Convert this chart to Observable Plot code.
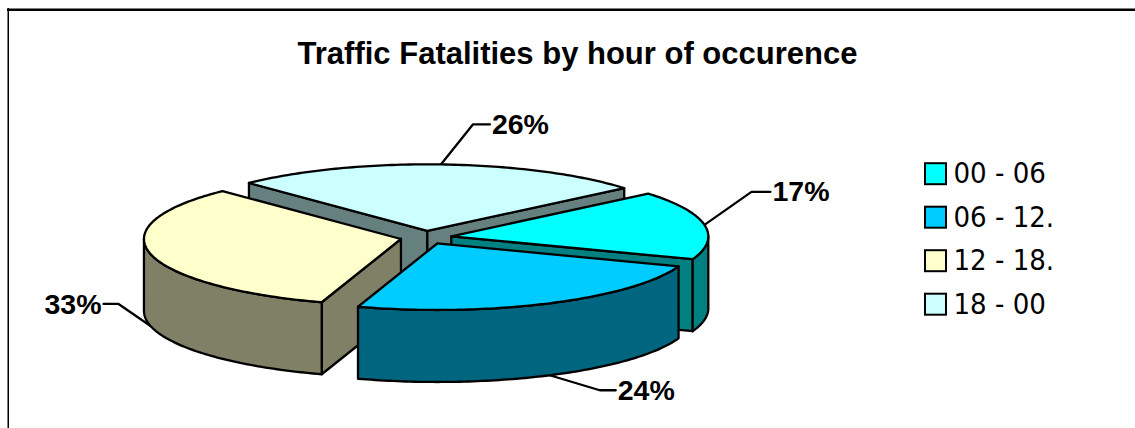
<!DOCTYPE html>
<html>
<head>
<meta charset="utf-8">
<script src="https://cdn.jsdelivr.net/npm/d3@7"></script>
<script src="https://cdn.jsdelivr.net/npm/@observablehq/plot@0.6"></script>
<style>
html,body{margin:0;padding:0;background:#fff;overflow:hidden}
svg{display:block}
</style>
</head>
<body>
<div id="chart"></div>
<script>
// Data
const title = "Traffic Fatalities by hour of occurence";
const categories = ["00 - 06", "06 - 12.", "12 - 18.", "18 - 00"];
const shares = [16.7, 24.4, 32.8, 26.1];
// Styles
const topColors = ["#00FFFF", "#00CCFF", "#FFFFCC", "#CCFFFF"];
const wallColors = ["#008080", "#006680", "#808066", "#668080"];
const paintOrder = [3, 2, 0, 1];
// Layout (pie projection, in pixels)
const W = 1135, H = 428;
const cx = 425.5, cy = 237, rx = 257, ry = 66.5, depthPx = 72, explode = 0.1, startDeg = -40;
const leaderElbow = [[47, -33, 66], [50, 15, 66], [-32, -22, -47], [32, -40, 49]];
const ux = p => (p - cx) / rx;
const uy = p => (p - cy) / ry;
const depth = depthPx / ry;
const rad = d => d * Math.PI / 180;

const total = d3.sum(shares);
let acc = startDeg;
const wedges = shares.map((s, i) => {
  const t0 = acc, t1 = acc + s / total * 360;
  acc = t1;
  const mid = (t0 + t1) / 2;
  return {i, t0, t1, mid, ox: explode * Math.cos(rad(mid)), oy: explode * Math.sin(rad(mid))};
});
const pt = (w, t, z = 0) => ({x: w.ox + Math.cos(rad(t)), y: w.oy + Math.sin(rad(t)) + z});
const apex = (w, z = 0) => ({x: w.ox, y: w.oy + z});
const sweep = (a, b) => {
  const n = Math.max(2, Math.ceil(b - a));
  return d3.range(n + 1).map(k => a + (b - a) * k / n);
};

const lineW = 2.3;
const poly = (points, fill) => Plot.line([...points, points[0]], {
  x: "x", y: "y", fill, stroke: "#000", strokeWidth: lineW, strokeLinejoin: "round", curve: "linear"
});

const pieMarks = [];
for (const i of paintOrder) {
  const w = wedges[i], wall = wallColors[i];
  // radial faces that turn towards the viewer
  if (-Math.cos(rad(w.t0)) > 0)
    pieMarks.push(poly([apex(w), pt(w, w.t0), pt(w, w.t0, depth), apex(w, depth)], wall));
  if (Math.cos(rad(w.t1)) > 0)
    pieMarks.push(poly([apex(w), pt(w, w.t1), pt(w, w.t1, depth), apex(w, depth)], wall));
  // outer wall: the part of the rim in front
  const a = Math.max(w.t0, 0), b = Math.min(w.t1, 180);
  if (b > a) {
    const ts = sweep(a, b);
    pieMarks.push(poly([...ts.map(t => pt(w, t)), ...ts.slice().reverse().map(t => pt(w, t, depth))], wall));
  }
  // top
  pieMarks.push(poly([apex(w), ...sweep(w.t0, w.t1).map(t => pt(w, t))], topColors[i]));
}

const leaders = wedges.map(w => {
  const z = Math.sin(rad(w.mid)) > 0 ? depth : 0;
  const s = pt(w, w.mid, z);
  const [dx, dy, ex] = leaderElbow[w.i];
  const elbow = {x: s.x + dx / rx, y: s.y + dy / ry};
  const end = {x: s.x + ex / rx, y: elbow.y};
  return {i: w.i, pts: [s, elbow, end], end, left: ex < 0};
});
const labelMark = (rows, anchor, gap) => Plot.text(rows, {
  x: d => d.end.x + gap / rx,
  y: d => d.end.y + 0.5 / ry,
  text: d => Math.round(shares[d.i]) + "%",
  textAnchor: anchor,
  lineAnchor: "middle",
  fontFamily: "Liberation Sans", fontWeight: "bold", fontSize: 28.5, fill: "#000"
});

const legendX = 925, legendSize = 21, legendTextX = 953;
const legendY = [173.7, 217.2, 260.7, 304.2];

const chart = Plot.plot({
  width: W, height: H,
  margin: 0,
  style: {background: "#fff", overflow: "visible"},
  x: {domain: [ux(0), ux(W)], range: [0, W], axis: null},
  y: {domain: [uy(0), uy(H)], range: [0, H], axis: null},
  marks: [
    // chart frame
    Plot.ruleY([uy(9.25)], {x1: ux(7), x2: ux(W), stroke: "#000", strokeWidth: 2.5}),
    Plot.ruleX([ux(7.75)], {y1: uy(8), y2: uy(H), stroke: "#000", strokeWidth: 1.5}),
    // title
    Plot.text([title], {
      x: ux(577), y: uy(54), text: d => d, fontFamily: "Liberation Sans", fontWeight: "bold",
      fontSize: 31, fill: "#000", textAnchor: "middle", lineAnchor: "middle"
    }),
    // leader lines
    ...leaders.map(l => Plot.line(l.pts, {x: "x", y: "y", stroke: "#000", strokeWidth: lineW, curve: "linear"})),
    ...pieMarks,
    // percentage labels
    labelMark(leaders.filter(d => !d.left), "start", 2),
    labelMark(leaders.filter(d => d.left), "end", -2),
    // legend
    Plot.rect(categories, {
      x1: ux(legendX), x2: ux(legendX + legendSize),
      y1: (d, i) => uy(legendY[i] - legendSize / 2),
      y2: (d, i) => uy(legendY[i] + legendSize / 2),
      fill: (d, i) => topColors[i], stroke: "#000", strokeWidth: 2
    }),
    Plot.text(categories, {
      x: ux(legendTextX), y: (d, i) => uy(legendY[i]),
      text: d => d, textAnchor: "start", lineAnchor: "middle",
      fontFamily: "DejaVu Sans Condensed, DejaVu Sans", fontSize: 29, fill: "#000"
    })
  ]
});
document.getElementById("chart").appendChild(chart);
</script>
</body>
</html>
